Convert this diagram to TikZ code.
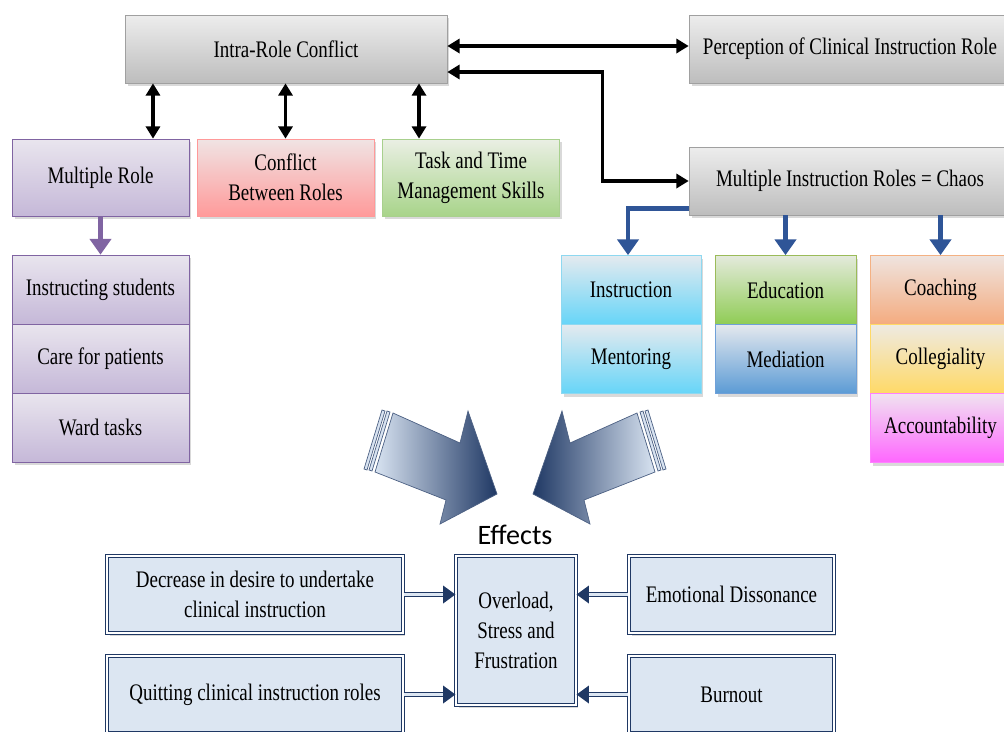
\documentclass[tikz,border=0pt]{standalone}
\usepackage{fontspec}
\setmainfont[FakeStretch=0.8]{Liberation Serif}
\newfontfamily\efffont{Carlito}
\usetikzlibrary{positioning}
\usetikzlibrary{arrows.meta}
\usetikzlibrary{shadows}

\definecolor{grayline}{HTML}{A0A0A0}
\definecolor{graytop}{HTML}{EDEDED}
\definecolor{graybot}{HTML}{BDBDBD}
\definecolor{purpline}{HTML}{8064A2}
\definecolor{purptop}{HTML}{E9E5EE}
\definecolor{purpbot}{HTML}{C5B8D8}
\definecolor{pinkline}{HTML}{FF9999}
\definecolor{pinktop}{HTML}{F0E4E4}
\definecolor{pinkbot}{HTML}{FF9A9A}
\definecolor{grnline}{HTML}{A8D08D}
\definecolor{grntop}{HTML}{EAEFE4}
\definecolor{grnbot}{HTML}{A8D48A}
\definecolor{cyanline}{HTML}{8ED8F0}
\definecolor{cyantop}{HTML}{E4EAEF}
\definecolor{cyanbot}{HTML}{66D5F8}
\definecolor{eduline}{HTML}{9BBB59}
\definecolor{edutop}{HTML}{E4EADC}
\definecolor{edubot}{HTML}{8FCC54}
\definecolor{medline}{HTML}{6FA0D8}
\definecolor{medtop}{HTML}{E4E8EE}
\definecolor{medbot}{HTML}{5B9BD5}
\definecolor{orgline}{HTML}{F4B183}
\definecolor{orgtop}{HTML}{EFE4DF}
\definecolor{orgbot}{HTML}{F4AB7F}
\definecolor{yelline}{HTML}{FFD966}
\definecolor{yeltop}{HTML}{EEEAE2}
\definecolor{yelbot}{HTML}{FFD966}
\definecolor{magline}{HTML}{FF80FF}
\definecolor{magtop}{HTML}{F0E3F0}
\definecolor{magbot}{HTML}{FF66FF}
\definecolor{navy}{HTML}{1F3864}
\definecolor{effill}{HTML}{DCE6F2}
\definecolor{chaosblue}{HTML}{2F5597}
\definecolor{arrlight}{HTML}{D8E3F1}
\definecolor{arrdark}{HTML}{1F3864}

\begin{document}
\begin{tikzpicture}[x=0.02cm, y=-0.02cm,
    font=\fontsize{13.5}{17}\selectfont,
    box/.style={rectangle, align=center, inner sep=2pt,
        drop shadow={shadow xshift=0.05cm, shadow yshift=-0.06cm, opacity=0.3}},
    graybox/.style={box, draw=grayline, top color=graytop, bottom color=graybot,
        minimum width=6.44cm, minimum height=1.36cm},
    topbox/.style={box, minimum width=3.54cm, minimum height=1.54cm},
    rowbox/.style={box, minimum height=1.38cm},
    effbox/.style={box, draw=navy, line width=0.7pt, double=white, double distance=0.8pt,
        fill=effill, minimum height=1.54cm},
    dblarrow/.style={{Triangle[length=7pt,width=8pt]}-{Triangle[length=7pt,width=8pt]}, line width=1.8pt},
    bluearrow/.style={-{Triangle[length=9pt,width=12pt]}, line width=2.8pt, draw=chaosblue},
    navyarrow/.style={-{Triangle[length=7pt,width=10pt]}, line width=1pt, draw=navy,
        double=effill, double distance=1.2pt},
    bigarrow/.style={draw=navy!80, line width=0.4pt}]

\clip (0,0) rectangle (1004,731);

% top row
\node[graybox] (intra) at (286,49) {Intra-Role Conflict};
\node[graybox] (percep) at (850,49) {Perception of Clinical Instruction Role};
\node[graybox] (chaos) at (850,181) {Multiple Instruction Roles = Chaos};

\node[topbox, draw=purpline, top color=purptop, bottom color=purpbot] (mrole) at (100.5,177.5) {Multiple Role};
\node[topbox, draw=pinkline, top color=pinktop, bottom color=pinkbot] (conflict) at (285.5,177.5) {Conflict\\Between Roles};
\node[topbox, draw=grnline, top color=grntop, bottom color=grnbot] (task) at (471,177.5) {Task and Time\\Management Skills};

% left stack
\node[rowbox, minimum width=3.54cm, draw=purpline, top color=purptop, bottom color=purpbot] (students) at (100.5,289.5) {Instructing students};
\node[rowbox, minimum width=3.54cm, draw=purpline, top color=purptop, bottom color=purpbot] (patients) at (100.5,358.5) {Care for patients};
\node[rowbox, minimum width=3.54cm, draw=purpline, top color=purptop, bottom color=purpbot] (ward) at (100.5,427.5) {Ward tasks};

% instruction roles
\node[rowbox, minimum width=2.8cm, draw=cyanline, top color=cyantop, bottom color=cyanbot] (instr) at (631,290) {Instruction};
\node[rowbox, minimum width=2.8cm, draw=cyanline, top color=cyantop, bottom color=cyanbot] (mentor) at (631,359) {Mentoring};
\node[rowbox, minimum width=2.82cm, draw=eduline, top color=edutop, bottom color=edubot] (edu) at (785.5,290) {Education};
\node[rowbox, minimum width=2.82cm, draw=medline, top color=medtop, bottom color=medbot] (media) at (785.5,359) {Mediation};
\node[rowbox, minimum width=2.82cm, draw=orgline, top color=orgtop, bottom color=orgbot] (coach) at (940.5,290) {Coaching};
\node[rowbox, minimum width=2.82cm, draw=yelline, top color=yeltop, bottom color=yelbot] (colleg) at (940.5,359) {Collegiality};
\node[rowbox, minimum width=2.82cm, draw=magline, top color=magtop, bottom color=magbot] (account) at (940.5,428) {Accountability};

% effects
\node[font=\efffont\fontsize{16}{18}\selectfont] (effects) at (515,535) {Effects};
\node[effbox, minimum width=2.4cm, minimum height=2.98cm, align=center] (over) at (516,630.5) {Overload,\\Stress and\\Frustration};
\node[effbox, minimum width=5.92cm] (decr) at (255,594.5) {Decrease in desire to undertake\\clinical instruction};
\node[effbox, minimum width=5.92cm] (quit) at (255,694.5) {Quitting clinical instruction roles};
\node[effbox, minimum width=4.1cm] (emo) at (731.5,594.5) {Emotional Dissonance};
\node[effbox, minimum width=4.1cm] (burn) at (731.5,694.5) {Burnout};

% connectors
\draw[dblarrow] ([xshift=1.05cm]mrole.north) -- ([xshift=1.05cm]mrole.north |- intra.south);
\draw[dblarrow] (conflict.north) -- (conflict.north |- intra.south);
\draw[dblarrow] ([xshift=-1.04cm]task.north) -- ([xshift=-1.04cm]task.north |- intra.south);
\draw[dblarrow] ([yshift=0.06cm]intra.east) -- ([yshift=0.06cm]percep.west);
\draw[dblarrow] ([yshift=-0.46cm]intra.east) -- ++(155,0) |- (chaos.west);

\draw[-{Triangle[length=9pt,width=12pt]}, line width=2.8pt, draw=purpline] (mrole.south) -- (students.north);

\draw[bluearrow] ([yshift=0.14cm]chaos.south west) -| ([xshift=-0.06cm]instr.north);
\draw[bluearrow] (edu.north |- chaos.south) -- (edu.north);
\draw[bluearrow] (coach.north |- chaos.south) -- (coach.north);

\draw[navyarrow] (decr.east) -- (decr.east -| over.west);
\draw[navyarrow] (quit.east) -- (quit.east -| over.west);
\draw[navyarrow] (emo.west) -- (emo.west -| over.east);
\draw[navyarrow] (burn.west) -- (burn.west -| over.east);

% big arrows into effects
\draw[bigarrow, left color=arrlight, right color=arrdark]
    (393,413) -- (460,443) -- (468,411) -- (497,494) -- (440,524) -- (446,500) -- (375,472) -- cycle;
\draw[bigarrow, fill=arrlight] (390,412) -- (387,411) -- (369,470) -- (372,471) -- cycle;
\draw[bigarrow, fill=arrlight] (385,411) -- (382,410) -- (364,469) -- (367,470) -- cycle;
\draw[bigarrow, left color=arrdark, right color=arrlight]
    (637,413) -- (570,443) -- (562,411) -- (533,494) -- (590,524) -- (584,500) -- (655,472) -- cycle;
\draw[bigarrow, fill=arrlight] (640,412) -- (643,411) -- (661,470) -- (658,471) -- cycle;
\draw[bigarrow, fill=arrlight] (645,411) -- (648,410) -- (666,469) -- (663,470) -- cycle;
\end{tikzpicture}
\end{document}
